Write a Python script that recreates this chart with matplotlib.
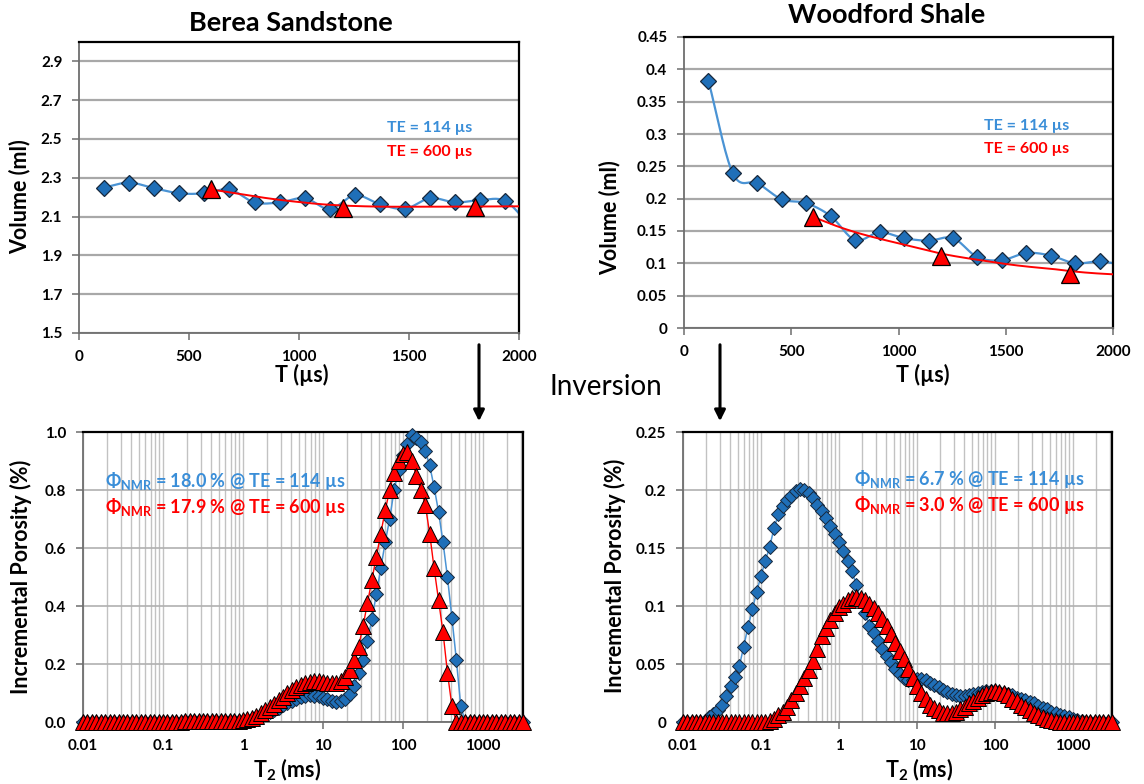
import numpy as np
import matplotlib
matplotlib.use("Agg")
import matplotlib.pyplot as plt
from matplotlib.patches import FancyArrowPatch
from matplotlib.ticker import LogLocator, NullFormatter, FixedLocator

# ---------------------------------------------------------------- data
# Free-induction volume vs. recovery time T (µs)
T_us_114 = [114, 228, 342, 456, 570, 684, 798, 912, 1026, 1140, 1254, 1368,
            1482, 1596, 1710, 1824, 1938, 2052]
T_us_600 = [600, 1200, 1800]

berea_vol_114 = [2.25, 2.275, 2.246, 2.22, 2.22, 2.24, 2.173, 2.173, 2.195,
                 2.139, 2.21, 2.164, 2.14, 2.195, 2.173, 2.185, 2.18, 2.05]
berea_vol_600 = [2.24, 2.144, 2.152]
berea_fit_T = [600, 700, 800, 900, 1000, 1100, 1200, 1300, 1400, 1600, 1800, 2000]
berea_fit_vol = [2.24, 2.222, 2.204, 2.188, 2.175, 2.164, 2.157, 2.153, 2.151,
                 2.151, 2.152, 2.153]

woodford_vol_114 = [0.382, 0.239, 0.224, 0.199, 0.193, 0.173, 0.136, 0.148,
                    0.139, 0.135, 0.139, 0.1095, 0.105, 0.116, 0.112, 0.100,
                    0.103, 0.097]
woodford_vol_600 = [0.172, 0.1106, 0.0838]
woodford_fit_T = [600, 700, 800, 900, 1000, 1100, 1200, 1300, 1400, 1500,
                  1600, 1700, 1800, 1900, 2000]
woodford_fit_vol = [0.172, 0.159, 0.148, 0.139, 0.131, 0.123, 0.115, 0.109,
                    0.104, 0.099, 0.095, 0.092, 0.088, 0.085, 0.083]

# T2 distribution bins (ms), 18 bins per decade from 0.01 ms
t2_ms = np.logspace(-2, 3.5, 100)

berea_t2_114 = ([0.0] * 23 + [0.003] * 13 +
                [0.005, 0.008, 0.012, 0.017, 0.023, 0.029, 0.036, 0.043, 0.05,
                 0.057, 0.065, 0.073, 0.08, 0.086, 0.09, 0.092, 0.091, 0.088,
                 0.083, 0.078, 0.073, 0.07, 0.071, 0.078, 0.095, 0.125, 0.17,
                 0.215, 0.28, 0.355, 0.44, 0.53, 0.62, 0.70, 0.80, 0.87, 0.92,
                 0.96, 0.99, 0.98, 0.965, 0.935, 0.885, 0.81, 0.725, 0.62,
                 0.50, 0.36, 0.215, 0.055] +
                [0.0] * 14)
berea_t2_600 = ([0.0] * 23 + [0.003] * 13 +
                [0.006, 0.01, 0.015, 0.022, 0.03, 0.04, 0.051, 0.063, 0.075,
                 0.087, 0.099, 0.11, 0.12, 0.128, 0.134, 0.138, 0.14, 0.14,
                 0.138, 0.135, 0.133, 0.134, 0.14, 0.155, 0.18, 0.215, 0.26,
                 0.33, 0.41, 0.49, 0.57, 0.65, 0.73, 0.80, 0.86, 0.90, 0.925,
                 0.93, 0.90, 0.85, 0.80, 0.75, 0.65, 0.53, 0.42, 0.31, 0.17,
                 0.055] +
                [0.0] * 16)

woodford_t2_114 = ([0.0] * 6 +
                   [0.004, 0.007, 0.01, 0.015, 0.022, 0.031, 0.039, 0.048,
                    0.065, 0.082, 0.097, 0.112, 0.126, 0.139, 0.151, 0.167,
                    0.179, 0.186, 0.191, 0.195, 0.199, 0.201, 0.2, 0.197,
                    0.193, 0.187, 0.182, 0.176, 0.169, 0.162, 0.155, 0.147,
                    0.139, 0.13, 0.118, 0.105, 0.094, 0.083, 0.077, 0.07,
                    0.063, 0.057, 0.052, 0.046, 0.041, 0.038, 0.036, 0.036,
                    0.037, 0.037, 0.036, 0.034, 0.032, 0.03, 0.028, 0.026,
                    0.024, 0.023, 0.022, 0.022, 0.023, 0.024, 0.025, 0.026,
                    0.027, 0.027, 0.027, 0.026, 0.025, 0.024, 0.023, 0.021,
                    0.02, 0.019, 0.017, 0.016, 0.014, 0.012, 0.011, 0.009,
                    0.008, 0.006, 0.005, 0.004, 0.003, 0.002, 0.001] +
                   [0.0] * 7)
woodford_t2_600 = ([0.0] * 20 +
                   [0.001, 0.003, 0.006, 0.009, 0.013, 0.019, 0.025, 0.031,
                    0.038, 0.045, 0.053, 0.063, 0.074, 0.081, 0.088, 0.094,
                    0.099, 0.102, 0.105, 0.107, 0.108, 0.107, 0.105, 0.102,
                    0.098, 0.094, 0.089, 0.083, 0.076, 0.068, 0.061, 0.054,
                    0.046, 0.038, 0.031, 0.025, 0.02, 0.015, 0.012, 0.01,
                    0.008, 0.008, 0.008, 0.009, 0.011, 0.013, 0.016, 0.018,
                    0.021, 0.023, 0.025, 0.026, 0.027, 0.026, 0.025, 0.023,
                    0.02, 0.018, 0.015, 0.013, 0.01, 0.008, 0.006, 0.004,
                    0.003, 0.002, 0.001] +
                   [0.0] * 13)

# tick values / labels
T_ticks = [0, 500, 1000, 1500, 2000]
berea_vol_ticks = [1.5, 1.7, 1.9, 2.1, 2.3, 2.5, 2.7, 2.9]
berea_vol_labels = ["1.5", "1.7", "1.9", "2.1", "2.3", "2.5", "2.7", "2.9"]
woodford_vol_ticks = [0, 0.05, 0.1, 0.15, 0.2, 0.25, 0.3, 0.35, 0.4, 0.45]
woodford_vol_labels = ["0", "0.05", "0.1", "0.15", "0.2", "0.25", "0.3",
                       "0.35", "0.4", "0.45"]
t2_ticks = [0.01, 0.1, 1, 10, 100, 1000]
t2_labels = ["0.01", "0.1", "1", "10", "100", "1000"]
berea_por_ticks = [0.0, 0.2, 0.4, 0.6, 0.8, 1.0]
berea_por_labels = ["0.0", "0.2", "0.4", "0.6", "0.8", "1.0"]
woodford_por_ticks = [0, 0.05, 0.1, 0.15, 0.2, 0.25]
woodford_por_labels = ["0", "0.05", "0.1", "0.15", "0.2", "0.25"]

# ---------------------------------------------------------------- style
plt.rcParams["font.family"] = ["Lato", "DejaVu Sans"]
plt.rcParams["font.weight"] = "bold"
plt.rcParams["axes.labelweight"] = "bold"
plt.rcParams["mathtext.fontset"] = "custom"
plt.rcParams["mathtext.rm"] = "Lato:bold"
plt.rcParams["mathtext.bf"] = "Lato:bold"
plt.rcParams["mathtext.it"] = "Lato:bold"
plt.rcParams["mathtext.fallback"] = "stixsans"

DIAMOND = "#1f6fb8"
DIAMOND_EDGE = "#17283c"
LINE_BLUE = "#4a93d4"
TEXT_BLUE = "#3a8ed8"
RED = "#ff0000"
GRID = "#a8a8a8"

W, H = 1144, 784
fig = plt.figure(figsize=(W / 100, H / 100), dpi=100)


def add_axes(left, right, top, bottom):
    return fig.add_axes([left / W, 1 - bottom / H, (right - left) / W,
                         (bottom - top) / H])


def smooth_curve(x, y, n=16):
    """Cubic Bezier smoothing through the given points (Catmull-Rom style)."""
    x = np.asarray(x, float)
    y = np.asarray(y, float)
    px = np.concatenate([[2 * x[0] - x[1]], x, [2 * x[-1] - x[-2]]])
    py = np.concatenate([[2 * y[0] - y[1]], y, [2 * y[-1] - y[-2]]])
    t = np.linspace(0, 1, n, endpoint=False)
    xs, ys = [], []
    for k in range(len(x) - 1):
        p0x, p1x, p2x, p3x = px[k:k + 4]
        p0y, p1y, p2y, p3y = py[k:k + 4]
        c1x, c1y = p1x + (p2x - p0x) / 6, p1y + (p2y - p0y) / 6
        c2x, c2y = p2x - (p3x - p1x) / 6, p2y - (p3y - p1y) / 6
        a, b = (1 - t) ** 3, 3 * (1 - t) ** 2 * t
        c, d = 3 * (1 - t) * t ** 2, t ** 3
        xs.append(a * p1x + b * c1x + c * c2x + d * p2x)
        ys.append(a * p1y + b * c1y + c * c2y + d * p2y)
    xs.append([x[-1]])
    ys.append([y[-1]])
    return np.concatenate(xs), np.concatenate(ys)


def frame(ax, tick_size):
    for side in ("top", "right"):
        ax.spines[side].set_color("black")
        ax.spines[side].set_linewidth(1.6)
    for side in ("left", "bottom"):
        ax.spines[side].set_color("#6e6e6e")
        ax.spines[side].set_linewidth(1.3)
    ax.tick_params(which="major", direction="out", length=5, width=1.1,
                   color="#6e6e6e", labelsize=tick_size, pad=7)
    ax.set_axisbelow(True)


def volume_panel(ax, vol114, vol600, fit_T, fit_vol, ylim, yticks, ylabels,
                 xlab_pos, ylab_pos):
    ax.set_xlim(0, 2000)
    ax.set_ylim(*ylim)
    ax.set_xticks(T_ticks)
    ax.set_xticklabels([str(v) for v in T_ticks], fontweight="bold")
    ax.set_yticks(yticks)
    ax.set_yticklabels(ylabels, fontweight="bold")
    ax.yaxis.grid(True, color=GRID, lw=1.6)
    frame(ax, 11)
    sx, sy = smooth_curve(T_us_114, vol114)
    ax.plot(sx, sy, color=LINE_BLUE, lw=1.6, zorder=2)
    ax.plot(T_us_114, vol114, ls="none", marker="D", ms=8, mfc=DIAMOND,
            mec=DIAMOND_EDGE, mew=0.9, zorder=3)
    fx, fy = smooth_curve(fit_T, fit_vol)
    ax.plot(fx, fy, color=RED, lw=1.4, zorder=3.5)
    ax.plot(T_us_600, vol600, ls="none", marker="^", ms=12.5, mfc=RED,
            mec="black", mew=0.9, zorder=4)
    ax.set_xlabel("T (µs)", fontsize=15.5, fontweight="bold")
    ax.set_ylabel("Volume (ml)", fontsize=15.5, fontweight="bold")
    ax.xaxis.set_label_coords(*xlab_pos)
    ax.yaxis.set_label_coords(*ylab_pos)


def t2_panel(ax, por114, por600, ylim, yticks, ylabels, xlab_pos, ylab_pos):
    ax.set_xscale("log")
    ax.set_xlim(10 ** -2, 10 ** 3.5)
    ax.set_ylim(*ylim)
    ax.xaxis.set_major_locator(FixedLocator(t2_ticks))
    ax.xaxis.set_minor_locator(LogLocator(base=10, subs=np.arange(2, 10),
                                          numticks=20))
    ax.xaxis.set_minor_formatter(NullFormatter())
    ax.set_xticklabels(t2_labels, fontweight="bold")
    ax.set_yticks(yticks)
    ax.set_yticklabels(ylabels, fontweight="bold")
    ax.xaxis.grid(True, which="both", color="#c2c2c2", lw=1.0)
    ax.yaxis.grid(True, which="major", color="#b0b0b0", lw=1.2)
    frame(ax, 11)
    ax.tick_params(which="minor", length=0)
    ax.plot(t2_ms, por114, color=LINE_BLUE, lw=1.1, zorder=2, clip_on=False)
    ax.plot(t2_ms, por114, ls="none", marker="D", ms=7, mfc=DIAMOND,
            mec=DIAMOND_EDGE, mew=0.7, zorder=3, clip_on=False)
    ax.plot(t2_ms, por600, color=RED, lw=1.0, zorder=4, clip_on=False)
    ax.plot(t2_ms, por600, ls="none", marker="^", ms=11, mfc=RED,
            mec="black", mew=0.7, zorder=5, clip_on=False)
    ax.set_xlabel(r"T$_{\mathbf{2}}$ (ms)", fontsize=15.5, fontweight="bold")
    ax.set_ylabel("Incremental Porosity (%)", fontsize=15.5,
                  fontweight="bold")
    ax.xaxis.set_label_coords(*xlab_pos)
    ax.yaxis.set_label_coords(*ylab_pos)


# ---------------------------------------------------------------- panels
ax1 = add_axes(79, 519, 42, 333)
volume_panel(ax1, berea_vol_114, berea_vol_600, berea_fit_T, berea_fit_vol,
             (1.5, 3.0), berea_vol_ticks, berea_vol_labels,
             (0.506, -0.108), (-0.11, 0.467))

ax2 = add_axes(684, 1113, 37, 328)
volume_panel(ax2, woodford_vol_114, woodford_vol_600, woodford_fit_T,
             woodford_fit_vol, (0, 0.45), woodford_vol_ticks,
             woodford_vol_labels, (0.557, -0.124), (-0.148, 0.381))

ax3 = add_axes(83, 523, 432, 722)
t2_panel(ax3, berea_t2_114, berea_t2_600, (0, 1.0), berea_por_ticks,
         berea_por_labels, (0.464, -0.118), (-0.115, 0.5))

ax4 = add_axes(683, 1112, 432, 722)
t2_panel(ax4, woodford_t2_114, woodford_t2_600, (0, 0.25),
         woodford_por_ticks, woodford_por_labels, (0.55, -0.118),
         (-0.132, 0.505))


def ftext(x, y, s, **kw):
    kw.setdefault("fontweight", "bold")
    fig.text(x / W, 1 - y / H, s, va="center", **kw)


# titles
ftext(291, 23, "Berea Sandstone", ha="center", fontsize=19.5)
ftext(887, 15, "Woodford Shale", ha="center", fontsize=19.5)

# echo-time labels
ftext(472, 128, "TE = 114 µs", ha="right", fontsize=11.5, color=TEXT_BLUE)
ftext(472, 152, "TE = 600 µs", ha="right", fontsize=11.5, color=RED)
ftext(1069, 126, "TE = 114 µs", ha="right", fontsize=11.5, color=TEXT_BLUE)
ftext(1069, 149, "TE = 600 µs", ha="right", fontsize=11.5, color=RED)

# NMR porosity labels
ftext(105, 481, r"$\mathbf{\Phi}_{\mathbf{NMR}}$ = 18.0 % @ TE = 114 µs",
      ha="left", fontsize=13, color=TEXT_BLUE)
ftext(105, 507, r"$\mathbf{\Phi}_{\mathbf{NMR}}$ = 17.9 % @ TE = 600 µs",
      ha="left", fontsize=13, color=RED)
ftext(854, 479, r"$\mathbf{\Phi}_{\mathbf{NMR}}$ = 6.7 % @ TE = 114 µs",
      ha="left", fontsize=13, color=TEXT_BLUE)
ftext(854, 505, r"$\mathbf{\Phi}_{\mathbf{NMR}}$ = 3.0 % @ TE = 600 µs",
      ha="left", fontsize=13, color=RED)

# inversion arrows
for xa in (479, 720):
    fig.add_artist(FancyArrowPatch((xa / W, 1 - 342 / H), (xa / W, 1 - 424 / H),
                                   transform=fig.transFigure,
                                   arrowstyle="-|>", mutation_scale=16,
                                   lw=2.2, color="black"))
ftext(606, 387, "Inversion", ha="center", fontsize=20, fontweight="normal")

fig.savefig("out.png", dpi=100)
